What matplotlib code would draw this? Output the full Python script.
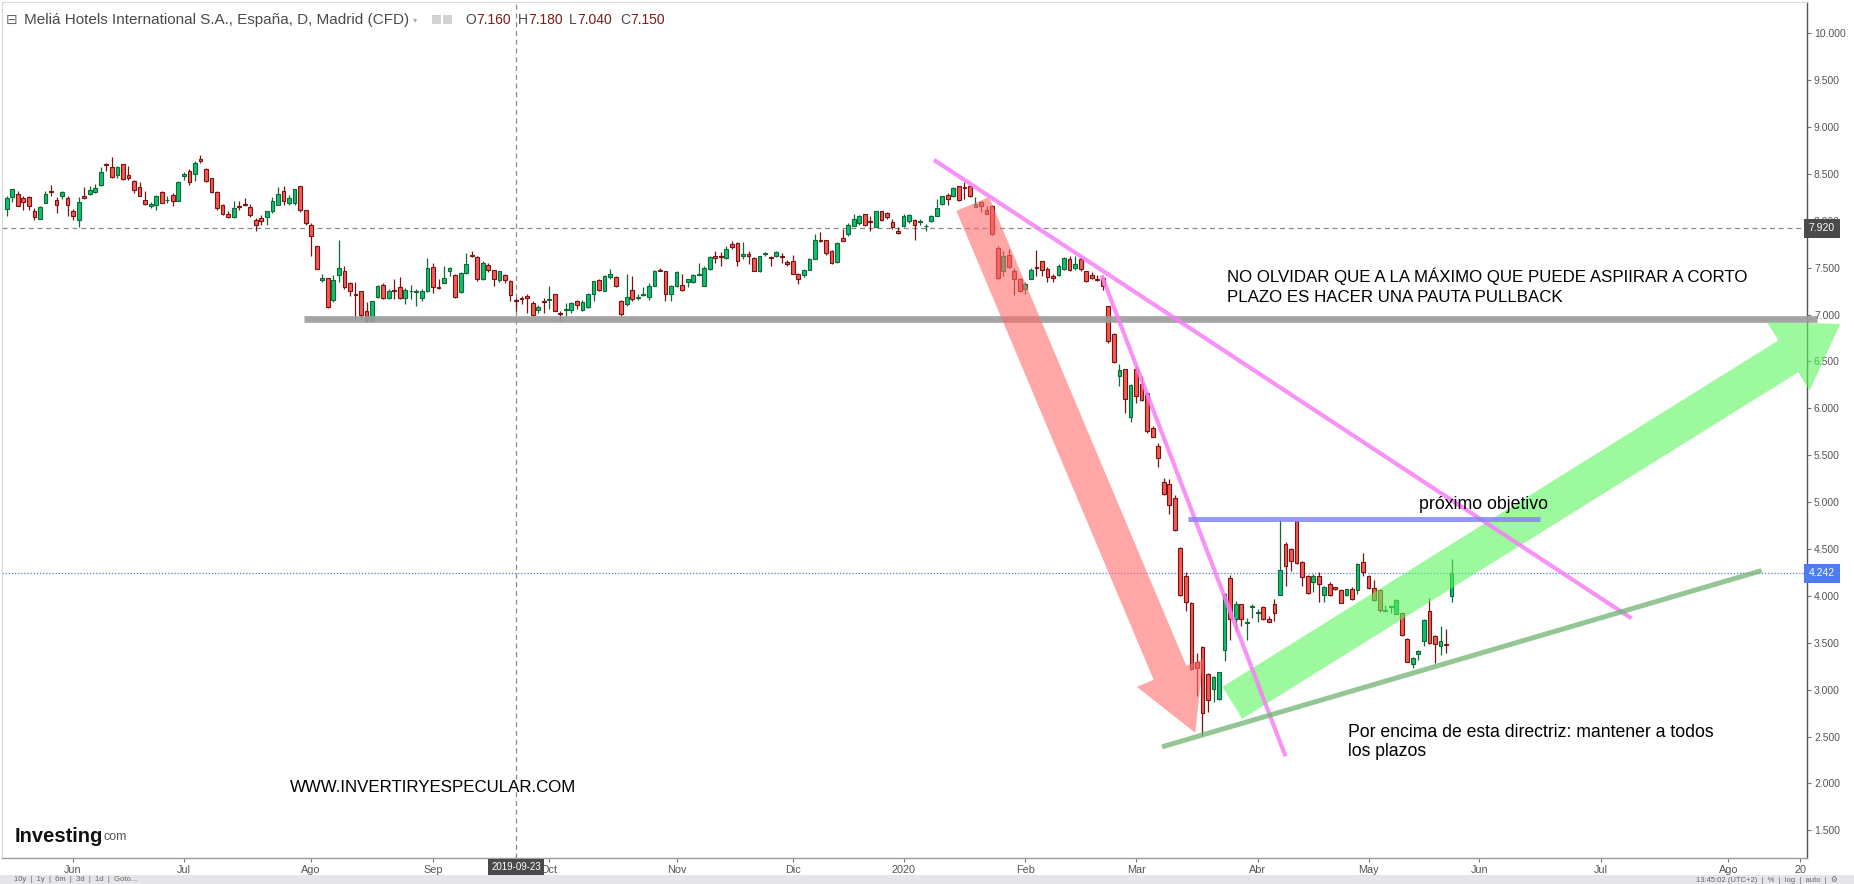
import numpy as np
import pandas as pd
import matplotlib
matplotlib.use("Agg")
import matplotlib.pyplot as plt
from matplotlib.patches import FancyArrowPatch, ArrowStyle, Rectangle
from matplotlib.transforms import blended_transform_factory

# ---------------- data ----------------
first_session = "2019-05-16"
market_holidays = ["2019-12-25", "2019-12-26", "2020-01-01",
                   "2020-04-10", "2020-04-13", "2020-05-01"]

opens = [8.13, 8.25, 8.29, 8.24, 8.25, 8.11, 8.02, 8.19, 8.32, 8.22, 8.27, 8.24, 8.11, 8.01, 8.26, 8.29, 8.31, 8.38, 8.61, 8.57,
         8.49, 8.61, 8.49, 8.42, 8.36, 8.22, 8.16, 8.17, 8.31, 8.22, 8.28, 8.21, 8.48, 8.53, 8.50, 8.66, 8.55, 8.46, 8.31, 8.17,
         8.07, 8.04, 8.16, 8.18, 8.15, 8.01, 8.03, 8.04, 8.11, 8.17, 8.32, 8.19, 8.19, 8.37, 8.12, 7.96, 7.73, 7.37, 7.39, 7.16,
         7.42, 7.47, 7.34, 7.22, 7.25, 7.04, 6.93, 7.19, 7.32, 7.18, 7.26, 7.29, 7.18, 7.25, 7.24, 7.18, 7.25, 7.51, 7.29, 7.34,
         7.47, 7.42, 7.24, 7.44, 7.64, 7.61, 7.38, 7.53, 7.48, 7.37, 7.42, 7.36, 7.16, 7.18, 7.20, 7.12, 7.05, 7.15, 7.16, 7.22,
         7.02, 7.05, 7.05, 7.14, 7.05, 7.08, 7.22, 7.37, 7.25, 7.40, 7.40, 7.15, 7.11, 7.26, 7.18, 7.21, 7.19, 7.31, 7.48, 7.47,
         7.22, 7.30, 7.32, 7.35, 7.35, 7.42, 7.31, 7.49, 7.62, 7.62, 7.60, 7.75, 7.76, 7.62, 7.65, 7.60, 7.47, 7.65, 7.61, 7.62,
         7.63, 7.56, 7.57, 7.43, 7.42, 7.48, 7.59, 7.80, 7.80, 7.68, 7.56, 7.82, 7.86, 7.95, 7.98, 8.07, 8.00, 7.93, 8.11, 8.08,
         7.99, 7.89, 7.95, 8.00, 8.01, 7.99, 7.94, 8.00, 8.05, 8.18, 8.28, 8.26, 8.37, 8.36, 8.37, 8.15, 8.20, 8.12, 8.16, 7.71,
         7.46, 7.64, 7.46, 7.38, 7.27, 7.38, 7.51, 7.57, 7.49, 7.41, 7.42, 7.49, 7.59, 7.50, 7.59, 7.46, 7.42, 7.38, 7.39, 7.09,
         6.79, 6.34, 6.42, 5.91, 6.42, 6.26, 6.16, 5.79, 5.60, 5.22, 5.19, 5.04, 4.51, 4.21, 3.92, 3.29, 3.46, 3.17, 3.01, 2.90,
         3.42, 4.19, 3.75, 3.91, 3.71, 3.88, 3.82, 3.88, 3.75, 3.91, 4.01, 4.55, 4.50, 4.80, 4.36, 4.21, 4.15, 4.21, 4.01, 4.13,
         4.10, 4.06, 4.01, 4.07, 4.06, 4.36, 4.21, 4.08, 4.06, 3.84, 3.88, 3.81, 3.82, 3.54, 3.27, 3.38, 3.52, 3.84, 3.57, 3.47,
         3.49, 4.00]
highs = [8.27, 8.34, 8.32, 8.27, 8.27, 8.14, 8.16, 8.32, 8.38, 8.25, 8.32, 8.27, 8.13, 8.25, 8.36, 8.37, 8.39, 8.57, 8.62, 8.68,
         8.59, 8.61, 8.59, 8.44, 8.41, 8.32, 8.20, 8.28, 8.32, 8.27, 8.30, 8.42, 8.52, 8.55, 8.64, 8.70, 8.56, 8.46, 8.32, 8.18,
         8.11, 8.21, 8.21, 8.24, 8.18, 8.03, 8.06, 8.11, 8.25, 8.36, 8.37, 8.28, 8.34, 8.37, 8.12, 7.98, 7.73, 7.43, 7.39, 7.42,
         7.80, 7.52, 7.35, 7.35, 7.25, 7.13, 7.15, 7.32, 7.34, 7.27, 7.38, 7.40, 7.28, 7.32, 7.27, 7.27, 7.60, 7.55, 7.38, 7.52,
         7.51, 7.43, 7.45, 7.66, 7.68, 7.63, 7.57, 7.55, 7.48, 7.47, 7.43, 7.37, 7.18, 7.20, 7.22, 7.15, 7.10, 7.18, 7.31, 7.22,
         7.04, 7.12, 7.13, 7.16, 7.16, 7.23, 7.36, 7.38, 7.42, 7.49, 7.41, 7.16, 7.43, 7.41, 7.22, 7.29, 7.34, 7.48, 7.50, 7.47,
         7.32, 7.47, 7.43, 7.38, 7.43, 7.55, 7.52, 7.63, 7.68, 7.67, 7.73, 7.79, 7.77, 7.77, 7.68, 7.61, 7.63, 7.67, 7.63, 7.68,
         7.66, 7.58, 7.64, 7.44, 7.49, 7.60, 7.86, 7.88, 7.80, 7.69, 7.77, 7.91, 7.98, 8.07, 8.06, 8.07, 8.05, 8.11, 8.11, 8.09,
         8.02, 7.93, 8.07, 8.07, 8.02, 8.02, 7.97, 8.06, 8.23, 8.27, 8.30, 8.36, 8.37, 8.41, 8.38, 8.25, 8.21, 8.16, 8.17, 7.73,
         7.68, 7.70, 7.50, 7.39, 7.35, 7.50, 7.69, 7.57, 7.51, 7.43, 7.54, 7.61, 7.63, 7.62, 7.61, 7.47, 7.45, 7.42, 7.40, 7.09,
         6.80, 6.47, 6.42, 6.26, 6.45, 6.34, 6.17, 5.81, 5.63, 5.26, 5.25, 5.08, 4.52, 4.26, 3.93, 3.39, 3.47, 3.18, 3.15, 3.19,
         4.03, 4.22, 3.95, 3.91, 3.76, 3.91, 3.86, 3.89, 3.79, 3.97, 4.81, 4.57, 4.51, 4.80, 4.37, 4.22, 4.23, 4.26, 4.11, 4.15,
         4.10, 4.07, 4.07, 4.09, 4.35, 4.46, 4.22, 4.17, 4.07, 3.90, 3.89, 3.97, 3.82, 3.55, 3.35, 3.42, 3.75, 3.98, 3.58, 3.68,
         3.65, 4.39]
lows = [8.05, 8.20, 8.16, 8.12, 8.12, 8.01, 8.02, 8.19, 8.27, 8.08, 8.23, 8.05, 8.01, 7.93, 8.23, 8.28, 8.30, 8.37, 8.53, 8.46,
        8.46, 8.44, 8.44, 8.30, 8.26, 8.17, 8.14, 8.12, 8.19, 8.19, 8.16, 8.21, 8.44, 8.38, 8.43, 8.62, 8.41, 8.30, 8.12, 8.06,
        8.03, 8.03, 8.12, 8.16, 8.04, 7.89, 7.96, 7.96, 8.08, 8.17, 8.17, 8.17, 8.17, 8.09, 7.96, 7.63, 7.49, 7.35, 7.07, 7.13,
        7.35, 7.27, 7.20, 6.95, 6.95, 6.92, 6.93, 7.18, 7.17, 7.17, 7.17, 7.17, 7.11, 7.17, 7.09, 7.15, 7.24, 7.23, 7.27, 7.34,
        7.41, 7.18, 7.23, 7.43, 7.61, 7.36, 7.37, 7.45, 7.31, 7.35, 7.34, 7.14, 7.04, 7.11, 7.02, 7.00, 7.02, 7.02, 7.06, 7.04,
        6.93, 6.99, 7.02, 7.06, 7.04, 7.07, 7.14, 7.25, 7.25, 7.38, 7.29, 6.99, 7.09, 7.14, 7.16, 7.20, 7.16, 7.31, 7.47, 7.15,
        7.15, 7.29, 7.25, 7.29, 7.34, 7.42, 7.30, 7.48, 7.55, 7.52, 7.59, 7.70, 7.52, 7.59, 7.54, 7.47, 7.45, 7.63, 7.52, 7.61,
        7.55, 7.52, 7.43, 7.33, 7.40, 7.48, 7.59, 7.77, 7.64, 7.54, 7.55, 7.78, 7.84, 7.95, 7.96, 7.95, 7.89, 7.93, 8.00, 8.02,
        7.91, 7.86, 7.93, 7.98, 7.80, 7.96, 7.89, 7.99, 8.05, 8.17, 8.17, 8.25, 8.21, 8.23, 8.25, 8.15, 8.09, 8.07, 7.85, 7.38,
        7.41, 7.50, 7.21, 7.24, 7.22, 7.38, 7.41, 7.41, 7.35, 7.35, 7.41, 7.48, 7.47, 7.48, 7.47, 7.35, 7.38, 7.36, 7.26, 6.70,
        6.48, 6.24, 5.95, 5.85, 6.06, 6.08, 5.74, 5.69, 5.37, 5.08, 4.87, 4.69, 4.00, 3.84, 3.21, 2.93, 2.52, 2.76, 2.87, 2.89,
        3.31, 3.53, 3.61, 3.68, 3.53, 3.76, 3.72, 3.74, 3.72, 3.73, 4.01, 4.11, 4.27, 4.34, 4.11, 4.02, 4.04, 3.93, 3.94, 4.00,
        4.06, 3.92, 4.00, 3.96, 4.02, 4.21, 4.07, 3.95, 3.83, 3.84, 3.82, 3.81, 3.57, 3.29, 3.23, 3.32, 3.47, 3.49, 3.28, 3.37,
        3.39, 3.94]
closes = [8.24, 8.34, 8.16, 8.20, 8.16, 8.04, 8.15, 8.29, 8.31, 8.17, 8.31, 8.17, 8.05, 8.20, 8.24, 8.33, 8.35, 8.52, 8.60, 8.47,
          8.57, 8.45, 8.46, 8.33, 8.27, 8.18, 8.18, 8.26, 8.19, 8.22, 8.21, 8.41, 8.50, 8.41, 8.62, 8.64, 8.42, 8.31, 8.14, 8.07,
          8.04, 8.14, 8.15, 8.17, 8.06, 7.96, 8.00, 8.10, 8.21, 8.29, 8.21, 8.24, 8.34, 8.12, 7.98, 7.84, 7.49, 7.39, 7.08, 7.37,
          7.50, 7.29, 7.25, 7.21, 7.00, 6.93, 7.15, 7.31, 7.18, 7.25, 7.25, 7.18, 7.26, 7.25, 7.25, 7.25, 7.50, 7.29, 7.28, 7.39,
          7.50, 7.19, 7.44, 7.54, 7.62, 7.38, 7.55, 7.48, 7.38, 7.46, 7.37, 7.21, 7.15, 7.17, 7.18, 7.00, 7.08, 7.13, 7.17, 7.04,
          7.01, 7.06, 7.12, 7.10, 7.13, 7.22, 7.36, 7.26, 7.41, 7.43, 7.30, 7.01, 7.19, 7.17, 7.18, 7.22, 7.30, 7.47, 7.47, 7.22,
          7.31, 7.45, 7.26, 7.38, 7.42, 7.43, 7.50, 7.61, 7.60, 7.61, 7.70, 7.72, 7.57, 7.65, 7.63, 7.47, 7.63, 7.65, 7.60, 7.67,
          7.61, 7.54, 7.43, 7.38, 7.48, 7.59, 7.80, 7.78, 7.66, 7.55, 7.76, 7.79, 7.96, 8.02, 8.05, 7.96, 7.99, 8.11, 8.01, 8.04,
          7.93, 7.87, 8.05, 8.06, 7.96, 8.00, 7.95, 8.05, 8.14, 8.26, 8.23, 8.35, 8.22, 8.35, 8.26, 8.18, 8.16, 8.07, 7.86, 7.39,
          7.62, 7.51, 7.38, 7.25, 7.33, 7.48, 7.50, 7.48, 7.40, 7.39, 7.52, 7.60, 7.48, 7.54, 7.49, 7.36, 7.39, 7.37, 7.30, 6.72,
          6.49, 6.41, 6.10, 6.25, 6.13, 6.09, 5.76, 5.69, 5.47, 5.09, 4.97, 4.70, 4.01, 3.93, 3.22, 3.23, 2.75, 2.89, 3.13, 3.19,
          4.02, 3.75, 3.91, 3.75, 3.72, 3.89, 3.83, 3.75, 3.72, 3.82, 4.28, 4.32, 4.37, 4.35, 4.20, 4.03, 4.21, 4.13, 4.10, 4.01,
          4.07, 3.92, 4.07, 3.97, 4.34, 4.26, 4.08, 3.96, 3.85, 3.85, 3.89, 3.96, 3.58, 3.30, 3.34, 3.41, 3.74, 3.50, 3.49, 3.52,
          3.48, 4.242]

tick_dates = ["2019-06-03", "2019-07-01", "2019-08-01", "2019-09-02", "2019-10-01", "2019-11-01",
              "2019-12-02", "2020-01-02", "2020-02-03", "2020-03-02", "2020-04-01", "2020-05-04",
              "2020-06-01", "2020-07-01", "2020-08-03", "2020-08-20"]
tick_labels = ["Jun", "Jul", "Ago", "Sep", "Oct", "Nov", "Dic", "2020", "Feb", "Mar", "Abr", "May",
               "Jun", "Jul", "Ago", "20"]
price_ticks = [1.5, 2.0, 2.5, 3.0, 3.5, 4.0, 4.5, 5.0, 5.5, 6.0, 6.5, 7.0, 7.5, 8.0, 8.5, 9.0, 9.5, 10.0]
crosshair_date = "2019-09-23"
ref_price_line = 7.92

# drawings (session index, price)
support_band = dict(x0=53.7, x1=327.0, y=6.95)
red_arrow = dict(start=(174.5, 8.18), end=(214.7, 2.54))
green_arrow = dict(start=(221.4, 2.86), end=(331.2, 6.90))
pink_line_long = dict(start=(167.5, 8.65), end=(293.5, 3.76))
pink_line_steep = dict(start=(197.8, 7.42), end=(231.0, 2.29))
target_line = dict(x0=213.3, x1=276.9, y=4.82)
support_trend = dict(start=(208.7, 2.39), end=(317.0, 4.27))

note_main = ["NO OLVIDAR QUE A LA MÁXIMO QUE PUEDE ASPIIRAR A CORTO",
             "PLAZO ES HACER UNA PAUTA PULLBACK"]
note_target = "próximo objetivo"
note_support = ["Por encima de esta directriz: mantener a todos", "los plazos"]
note_site = "WWW.INVERTIRYESPECULAR.COM"
title = "Meliá Hotels International S.A., España, D, Madrid (CFD)"

# ---------------- calendar ----------------
sessions = pd.bdate_range(first_session, "2020-09-30")
sessions = sessions[~sessions.isin(pd.to_datetime(market_holidays))]
tick_pos = sessions.get_indexer(pd.to_datetime(tick_dates))
cross_idx = int(sessions.get_indexer(pd.to_datetime([crosshair_date]))[0])

O = np.array(opens); Hh = np.array(highs); Ll = np.array(lows); C = np.array(closes)
n = len(O)
x = np.arange(n)

# ---------------- figure ----------------
W, H = 1854, 884
fig = plt.figure(figsize=(W / 100, H / 100), dpi=100)
fig.patch.set_facecolor("white")

def fx(px):
    return px / W

def fy(py):
    return 1 - py / H

ax = fig.add_axes([fx(2), fy(858), fx(1807) - fx(2), fy(2) - fy(858)])
ax.set_xlim(-0.85, 325.2)
ax.set_ylim(1.2046, 10.334)
ax.set_facecolor("white")

FONT = "Liberation Sans"

# candles
UP_FILL, UP_EDGE = "#14bd6e", "#0b6a38"
DN_FILL, DN_EDGE = "#f25a52", "#7c1212"
up = C >= O
body_bottom = np.minimum(O, C)
body_h = np.maximum(np.abs(C - O), 0.006)
for mask, fill, edge in [(up, UP_FILL, UP_EDGE), (~up, DN_FILL, DN_EDGE)]:
    ax.vlines(x[mask], Ll[mask], Hh[mask], colors=edge, linewidth=0.9, zorder=2)
    ax.bar(x[mask], body_h[mask], bottom=body_bottom[mask], width=0.68,
           color=fill, edgecolor=edge, linewidth=0.8, zorder=3)

# price lines and crosshair
ax.axhline(ref_price_line, color="#8a8a8a", lw=0.9, ls=(0, (4, 3)), zorder=1)
ax.axhline(C[-1], color="#4d7cf0", lw=0.9, ls=(0, (1, 1.5)), zorder=1)
ax.axvline(cross_idx, color="#8a8a8a", lw=0.9, ls=(0, (4, 3)), zorder=1)

# drawings
ax.plot([support_band["x0"], support_band["x1"]], [support_band["y"]] * 2,
        color="#9c9c9c", lw=4.8, alpha=0.92, solid_capstyle="butt", clip_on=False, zorder=5)

ra = FancyArrowPatch(red_arrow["start"], red_arrow["end"],
                     arrowstyle=ArrowStyle.Simple(head_length=46.8, head_width=51.8, tail_width=25.6),
                     mutation_scale=1, color="#ff6b6b", alpha=0.6, lw=0,
                     shrinkA=0, shrinkB=0, zorder=6)
ax.add_patch(ra)
ga = FancyArrowPatch(green_arrow["start"], green_arrow["end"],
                     arrowstyle=ArrowStyle.Simple(head_length=44, head_width=58, tail_width=27),
                     mutation_scale=1, color="#5cf55c", alpha=0.6, lw=0,
                     shrinkA=0, shrinkB=0, zorder=6, clip_on=False)
ax.add_patch(ga)

for ln in (pink_line_long, pink_line_steep):
    ax.plot([ln["start"][0], ln["end"][0]], [ln["start"][1], ln["end"][1]],
            color="#f77ff7", lw=3.0, alpha=0.85, solid_capstyle="butt", zorder=7)

ax.plot([target_line["x0"], target_line["x1"]], [target_line["y"]] * 2,
        color="#8585fa", lw=3.6, alpha=0.85, solid_capstyle="butt", zorder=7)
ax.plot([support_trend["start"][0], support_trend["end"][0]],
        [support_trend["start"][1], support_trend["end"][1]],
        color="#6fb36f", lw=3.6, alpha=0.75, solid_capstyle="butt", zorder=7)

# notes
ax.text(220.5, 7.412, note_main[0], family=FONT, fontsize=12.2, color="black", ha="left", va="center", zorder=9)
ax.text(220.5, 7.184, note_main[1], family=FONT, fontsize=12.2, color="black", ha="left", va="center", zorder=9)
ax.text(255.1, 4.975, note_target, family=FONT, fontsize=12.8, color="black", ha="left", va="center", zorder=9)
ax.text(242.3, 2.538, note_support[0], family=FONT, fontsize=12.7, color="black", ha="left", va="center", zorder=9)
ax.text(242.3, 2.336, note_support[1], family=FONT, fontsize=12.7, color="black", ha="left", va="center", zorder=9)
ax.text(51.1, 1.957, note_site, family=FONT, fontsize=12.2, color="black", ha="left", va="center", zorder=9)

# axes styling
ax.yaxis.tick_right()
ax.set_yticks(price_ticks)
ax.set_yticklabels([f"{v:.3f}" for v in price_ticks], family=FONT)
ax.set_xticks(tick_pos)
ax.set_xticklabels(tick_labels, family=FONT)
ax.tick_params(axis="y", direction="out", length=3, width=0.8, color="#777777",
               labelcolor="#555555", labelsize=7.5, pad=2)
ax.tick_params(axis="x", direction="out", length=3, width=0.8, color="#777777",
               labelcolor="#555555", labelsize=7.8, pad=2)
for s in ("top", "left"):
    ax.spines[s].set_color("#d8d8d8")
    ax.spines[s].set_linewidth(0.8)
ax.spines["right"].set_color("#555555")
ax.spines["right"].set_linewidth(1.0)
ax.spines["bottom"].set_color("#9a9a9a")
ax.spines["bottom"].set_linewidth(1.0)

# axis label boxes
ty = blended_transform_factory(ax.transAxes, ax.transData)
ax.text(1.001, ref_price_line, f"{ref_price_line:.3f}", transform=ty, ha="left", va="center",
        family=FONT, fontsize=7.5, color="white", zorder=12, clip_on=False,
        bbox=dict(boxstyle="square,pad=0.45", fc="#4a4a4a", ec="none"))
ax.text(1.001, C[-1], f"{C[-1]:.3f}", transform=ty, ha="left", va="center",
        family=FONT, fontsize=7.5, color="white", zorder=12, clip_on=False,
        bbox=dict(boxstyle="square,pad=0.45", fc="#4d7cf0", ec="none"))
tx = blended_transform_factory(ax.transData, ax.transAxes)
ax.text(cross_idx, -0.0105, pd.Timestamp(crosshair_date).strftime("%Y-%m-%d"), transform=tx,
        ha="center", va="center", family=FONT, fontsize=7, color="white", zorder=12, clip_on=False,
        bbox=dict(boxstyle="square,pad=0.35", fc="#4a4a4a", ec="none"))

# header legend
fig.text(fx(6), fy(20), "⊟", family="DejaVu Sans", fontsize=10, color="#666666", ha="left", va="center")
fig.text(fx(24), fy(20), title, family=FONT, fontsize=11, color="#4a4a4a", ha="left", va="center")
fig.text(fx(413), fy(20), "▾", family="DejaVu Sans", fontsize=6, color="#aaaaaa", ha="left", va="center")
for px in (432, 443):
    fig.add_artist(Rectangle((fx(px), fy(24)), 9 / W, 9 / H, transform=fig.transFigure,
                             color="#d2d2d2", lw=0))
ci = cross_idx
for px, letter, val in [(465, "O", O[ci]), (518, "H", Hh[ci]), (569, "L", Ll[ci]), (620, "C", C[ci])]:
    t = fig.text(fx(px), fy(20), letter, family=FONT, fontsize=10, color="#4a4a4a", ha="left", va="center")
    ax.annotate(f"{val:.3f}", xy=(1, 0.5), xycoords=t, family=FONT, fontsize=10, color="#7d1a1a",
                ha="left", va="center", annotation_clip=False)

# Investing.com logo
logo = fig.text(fx(15), fy(837), "Investing", family=FONT, fontsize=14.5, weight="bold",
                color="#111111", ha="left", va="center")
ax.annotate("com", xy=(1.0, 0.2), xycoords=logo, family=FONT, fontsize=9, color="#555555",
            ha="left", va="bottom", annotation_clip=False)

# bottom toolbar
fig.add_artist(Rectangle((0, 0), 1, 9 / H, transform=fig.transFigure, color="#e6e6ea", lw=0))
fig.text(fx(14), fy(879.5), "10y  |  1y  |  6m  |  3d  |  1d  |  Goto...", family=FONT, fontsize=5.5,
         color="#666666", ha="left", va="center")
fig.text(fx(1838), fy(879.5), "13:45:02 (UTC+2)  |  %  |  log  |  auto  |  ⚙",
         family=["Liberation Sans", "DejaVu Sans"], fontsize=5.5, color="#666666", ha="right", va="center")

fig.savefig("out.png", dpi=100, facecolor="white")
